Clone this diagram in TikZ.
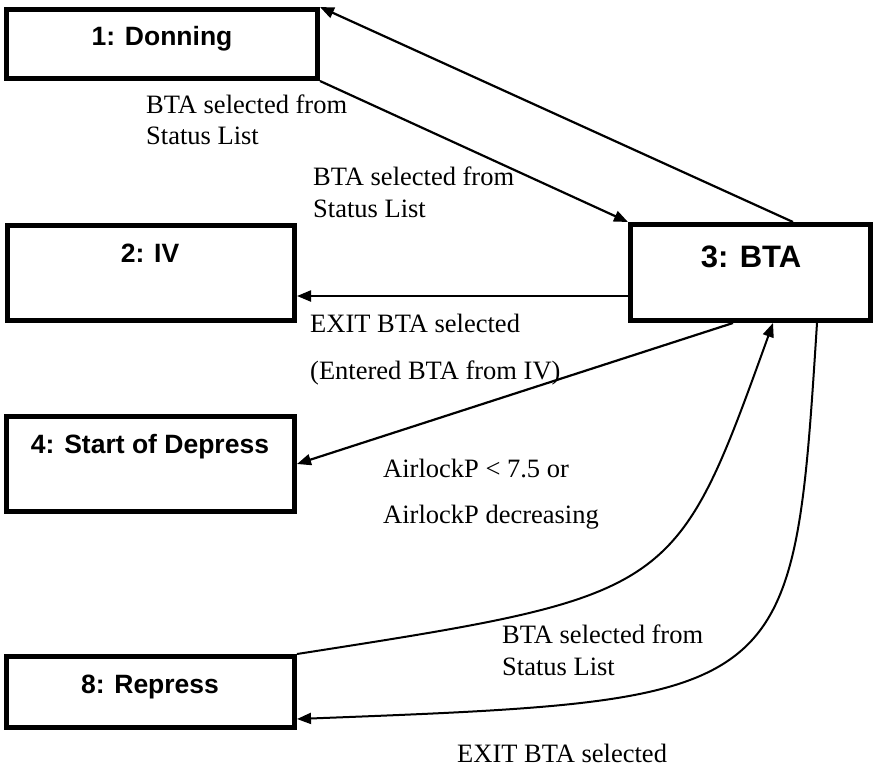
\documentclass[tikz,border=0pt]{standalone}
\usepackage{fontspec}
\setmainfont{Liberation Serif}
\newfontfamily\boxfont{Liberation Sans}
\usetikzlibrary{arrows.meta,calc}
\begin{document}
\begin{tikzpicture}[x=1pt,y=-1pt,
  box/.style={draw, line width=5pt, rectangle, inner sep=0pt},
  boxtext/.style={font=\boxfont\bfseries\fontsize{26.5}{30}\selectfont, anchor=base, inner sep=0pt},
  bigtext/.style={font=\boxfont\bfseries\fontsize{31}{34}\selectfont, anchor=base, inner sep=0pt},
  lbl/.style={font=\fontsize{26.5}{30}\selectfont, anchor=base west, inner sep=0pt},
  conn/.style={line width=2.2pt, -{Triangle[length=14pt,width=11pt]}},
  curvy/.style={line width=2pt, -{Triangle[length=14pt,width=11pt]}}]
\useasboundingbox (0,0) rectangle (873,769);

% boxes
\node[box, minimum width=311pt, minimum height=69pt] (b1) at (162,44) {};
\node[box, minimum width=287pt, minimum height=95pt] (b2) at (151,273) {};
\node[box, minimum width=240pt, minimum height=96pt] (b3) at (750.5,272.5) {};
\node[box, minimum width=288pt, minimum height=95pt] (b4) at (150.5,464) {};
\node[box, minimum width=288pt, minimum height=71pt] (b8) at (150.5,692) {};

% box texts
\node[boxtext] (t1) at (162,45) {1: Donning};
\node[boxtext] (t2) at (150,262) {2: IV};
\node[bigtext] (t3) at (751,267) {3: BTA};
\node[boxtext] (t4) at (150,453) {4: Start of Depress};
\node[boxtext] (t8) at (150,693) {8: Repress};

% connectors
\draw[conn] ([xshift=42.5pt]b3.north) -- (b1.north east);
\draw[conn] (b1.south east) -- (b3.north west);
\draw[conn] ([yshift=-23.5pt]b3.west) -- ([yshift=-23.5pt]b3.west -| b2.east);
\draw[conn] ([xshift=-17.5pt]b3.south) -- (b4.east);
\draw[curvy] (b8.north east) .. controls (675,595) .. ([xshift=22.5pt]b3.south);
\draw[curvy] ([xshift=66.5pt]b3.south) .. controls (793,700) .. ([yshift=-27pt]b8.east);

% labels
\node[lbl] (l1a) at (146,113) {BTA selected from};
\node[lbl] (l1b) at (146,144) {Status List};
\node[lbl] (l2a) at (313,185) {BTA selected from};
\node[lbl] (l2b) at (313,217) {Status List};
\node[lbl] (l3a) at (310,332) {EXIT BTA selected};
\node[lbl] (l3b) at (310,379) {(Entered BTA from IV)};
\node[lbl] (l4a) at (383,477) {AirlockP < 7.5 or};
\node[lbl] (l4b) at (383,523) {AirlockP decreasing};
\node[lbl] (l5a) at (502,643) {BTA selected from};
\node[lbl] (l5b) at (502,675) {Status List};
\node[lbl] (l6) at (457,762) {EXIT BTA selected};
\end{tikzpicture}
\end{document}
